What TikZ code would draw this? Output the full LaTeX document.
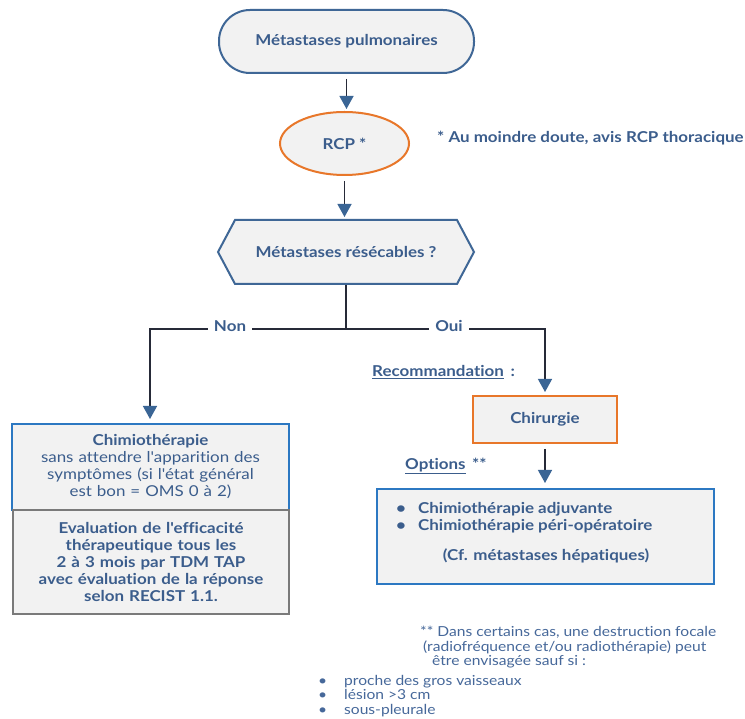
\documentclass[tikz,border=0pt]{standalone}
\usepackage{fontspec}
\setmainfont{Lato}[FakeStretch=1.13, Ligatures={CommonOff,TeXOff}]
\usetikzlibrary{arrows.meta,shapes.geometric,shapes.symbols}
\definecolor{txtblue}{HTML}{3B5D8C}
\definecolor{softblue}{HTML}{46689A}
\definecolor{edgeblue}{HTML}{3F6796}
\definecolor{orng}{HTML}{E8772A}
\definecolor{boxfill}{HTML}{F2F2F2}
\definecolor{brightblue}{HTML}{2C78C2}
\definecolor{gborder}{HTML}{7A7A7A}
\definecolor{linedark}{HTML}{262A38}
\definecolor{tipblue}{HTML}{3A6595}
\tikzset{
  lbl/.style={text=txtblue, font=\fontsize{15}{17}\selectfont\bfseries, inner sep=0pt},
  box/.style={lbl, fill=boxfill, line width=2pt, inner sep=2pt},
  plain/.style={text=softblue, font=\fontsize{13.8}{14.5}\selectfont, inner sep=0pt, align=left},
  link/.style={draw=linedark, line width=1.3pt},
  flow/.style={link, -{Triangle[width=14pt,length=13pt,color=tipblue,fill=tipblue]}},
}
\begin{document}
\begin{tikzpicture}[x=1pt,y=-1pt]
\useasboundingbox[fill=white] (0,0) rectangle (745,719);

% main chain
\node[box, draw=edgeblue, rounded corners=31pt, minimum width=255pt, minimum height=63pt] (top) at (346.5,41.5) {Métastases pulmonaires};
\node[box, draw=orng, ellipse, minimum width=129pt, minimum height=63pt] (rcp) at (344.5,143.5) {RCP *};
\node[lbl, anchor=west] (note) at (437,138) {* Au moindre doute, avis RCP thoracique};
\node[box, draw=edgeblue, signal, signal to=east and west, signal pointer angle=124, minimum width=256pt, minimum height=64pt] (hex) at (346,252) {Métastases résécables ?};

\draw[flow, shorten <=5pt, shorten >=2pt] (top.south) -- (top.south |- rcp.north);
\draw[flow, shorten <=5pt, shorten >=2pt] (rcp.south) -- (rcp.south |- hex.north);

% branches
\coordinate (split) at (346,329);
\coordinate (lft) at (150,329);
\coordinate (rgt) at (545,329);

\node[box, draw=brightblue, minimum width=277pt, minimum height=86pt, text width=268pt, align=center] (chemo) at (150.5,467)
  {Chimiothérapie\\\mdseries sans attendre l'apparition des\\\mdseries symptômes (si l'état général\\\mdseries est bon = OMS 0 à 2)};
\node[box, draw=gborder, line width=2.5pt, minimum width=276pt, minimum height=104pt, text width=268pt, align=center] (eval) at (151,562)
  {Evaluation de l'efficacité\\thérapeutique tous les\\2 à 3 mois par TDM TAP\\avec évaluation de la réponse\\selon RECIST 1.1.};

\node[box, draw=orng, minimum width=144pt, minimum height=47pt] (chir) at (545,419.5) {Chirurgie};
\node[box, draw=brightblue, minimum width=337pt, minimum height=95pt] (opts) at (545.5,536.5) {};

\draw[link] (hex.south) -- (split);
\draw[flow, shorten >=4pt] (split) -- (lft) -- (lft |- chemo.north);
\draw[flow, shorten >=3pt] (split) -- (rgt) -- (rgt |- chir.north);
\draw[flow, shorten <=5pt, shorten >=5pt] (chir.south) -- (chir.south |- opts.north);

\node[lbl, fill=white, inner xsep=6pt, inner ysep=2pt] (non) at (230,326) {Non};
\node[lbl, fill=white, inner xsep=6pt, inner ysep=2pt] (oui) at (449,326) {Oui};

\node[lbl, anchor=west] (reco) at (372,372) {\underline{Recommandation}\, :};
\node[lbl, anchor=west] (optlbl) at (405,466) {\underline{Options}\, **};

% options content
\node[lbl, anchor=west] (opt1) at (396,509) {\makebox[22pt][l]{•}Chimiothérapie adjuvante};
\node[lbl, anchor=west] (opt2) at (396,526) {\makebox[22pt][l]{•}Chimiothérapie péri-opératoire};
\node[lbl] (cf) at (546,556) {(Cf. métastases hépatiques)};

% footnote
\node[plain, anchor=north west] (foot) at (420,626)
  {** Dans certains cas, une destruction focale\\
   \hspace*{3pt}(radiofréquence et/ou radiothérapie) peut\\
   \hspace*{12pt}être envisagée sauf si :};
\node[plain, anchor=north west] (list) at (318,675)
  {\makebox[26pt][l]{•}proche des gros vaisseaux\\
   \makebox[26pt][l]{•}lésion >3 cm\\
   \makebox[26pt][l]{•}sous-pleurale};
\end{tikzpicture}
\end{document}
